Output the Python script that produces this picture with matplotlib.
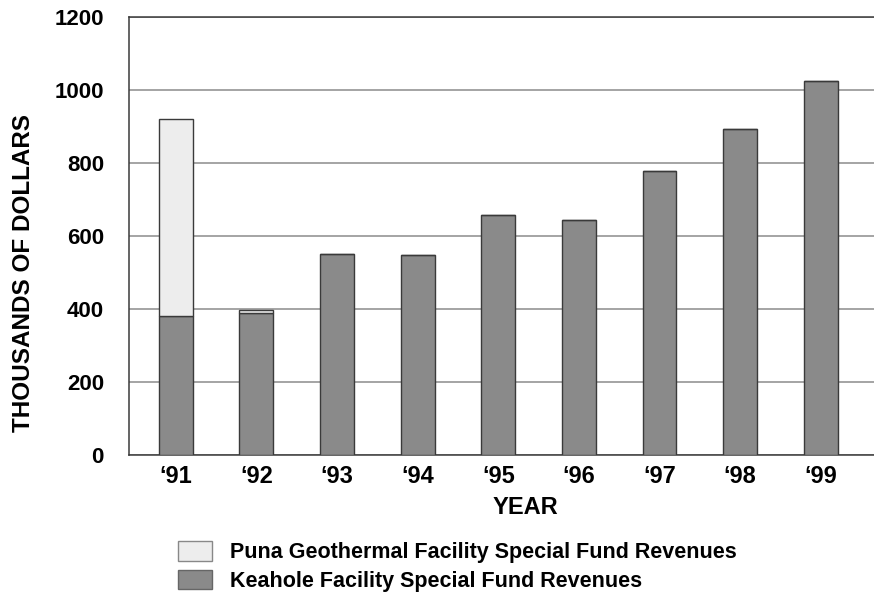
import numpy as np
import matplotlib.pyplot as plt
from matplotlib.patches import Patch

# values (thousands of dollars)
years = ['\u201891', '\u201892', '\u201893', '\u201894', '\u201895',
         '\u201896', '\u201897', '\u201898', '\u201899']
keahole = [382, 388, 552, 548, 658, 645, 777, 892, 1024]
puna = [538, 8, 0, 0, 0, 0, 0, 0, 0]
yticks = [0, 200, 400, 600, 800, 1000, 1200]

plt.rcParams['font.family'] = ['Liberation Sans', 'DejaVu Sans']
plt.rcParams['font.weight'] = 'bold'

dark_c = '#8a8a8a'
light_c = '#ededed'
edge_c = '#3a3a3a'

fig = plt.figure(figsize=(8.74, 5.97), dpi=100)
ax = fig.add_axes([129/874, 1 - 455/597, 1 - 129/874, (455 - 17)/597])

x = np.arange(len(years))
ax.bar(x, keahole, width=0.42, color=dark_c, edgecolor=edge_c, linewidth=1, zorder=3)
ax.bar(x, puna, width=0.42, bottom=keahole, color=light_c, edgecolor=edge_c,
       linewidth=1, zorder=3)

ax.set_xlim(-0.58, 8.66)
ax.set_ylim(0, 1200)
ax.set_yticks(yticks)
ax.set_xticks(x)
ax.set_xticklabels(years, fontsize=17, fontweight='bold')
ax.set_yticklabels([str(v) for v in yticks], fontsize=16, fontweight='bold')
ax.tick_params(axis='y', length=0, pad=18)
ax.tick_params(axis='x', length=0, pad=7)

ax.grid(axis='y', color='#8c8c8c', linewidth=1.1, zorder=0)
ax.set_axisbelow(True)
for side in ['left', 'top', 'bottom']:
    ax.spines[side].set_color(edge_c)
    ax.spines[side].set_linewidth(1.1)
ax.spines['right'].set_visible(False)

fig.text(24/874, 1 - 273/597, 'THOUSANDS OF DOLLARS', rotation=90,
         ha='center', va='center', fontsize=17.5, fontweight='bold')
fig.text(525/874, 1 - 507/597, 'YEAR', ha='center', va='center',
         fontsize=17, fontweight='bold')

handles = [Patch(facecolor=light_c, edgecolor='#888888', linewidth=1),
           Patch(facecolor=dark_c, edgecolor='#666666', linewidth=1)]
labels = ['Puna Geothermal Facility Special Fund Revenues',
          'Keahole Facility Special Fund Revenues']
fig.legend(handles, labels, loc='upper left', bbox_to_anchor=(178/874, 1 - 541/597),
           frameon=False, handlelength=1.58, handleheight=1.02,
           handletextpad=0.84, labelspacing=0.3, borderpad=0, borderaxespad=0,
           prop={'weight': 'bold', 'size': 15.5})

fig.savefig('out.png', dpi=100)
